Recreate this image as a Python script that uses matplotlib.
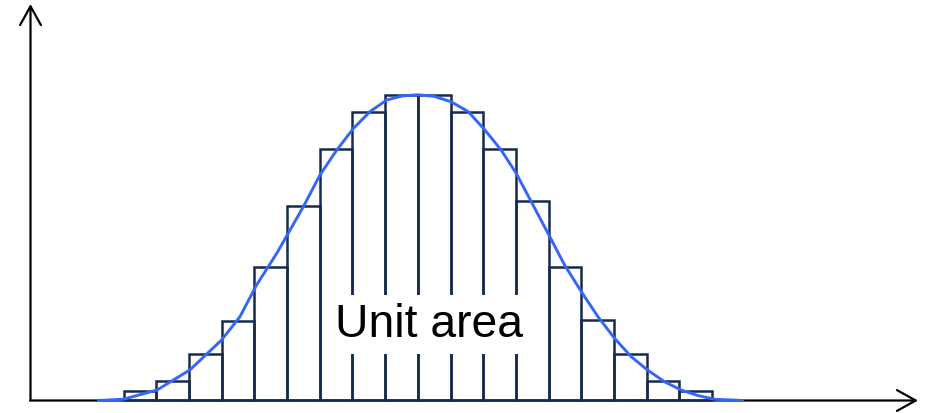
import matplotlib
matplotlib.use("Agg")
import matplotlib.pyplot as plt

# Histogram bins (bin width = 1, centred on 0) and bar heights (% of the tallest bar)
bin_centers = [-8.5, -7.5, -6.5, -5.5, -4.5, -3.5, -2.5, -1.5, -0.5,
               0.5, 1.5, 2.5, 3.5, 4.5, 5.5, 6.5, 7.5, 8.5]
bar_heights = [3.0, 6.5, 15.3, 25.9, 43.8, 63.7, 82.1, 94.5, 100.0,
               100.0, 94.5, 82.1, 65.2, 43.6, 26.2, 15.3, 6.5, 3.0]

# Smooth density curve drawn over the histogram
curve_x = [-9.77, -9.01, -7.98, -6.97, -6.00, -5.44, -4.93, -4.31, -3.50,
           -2.99, -2.48, -1.97, -1.46, -0.95, -0.48, 0.0, 0.50, 1.02, 1.54,
           2.05, 2.55, 3.01, 3.47, 4.01, 4.49, 5.00, 5.51, 6.02, 6.53, 7.02,
           7.55, 8.06, 8.57, 9.08, 9.94]
curve_y = [0.0, 0.4, 3.4, 10.0, 19.8, 27.4, 37.8, 48.2, 63.4,
           73.8, 81.9, 89.0, 94.5, 98.3, 99.6, 100.0, 99.5, 97.7, 94.5,
           88.5, 81.9, 74.3, 65.0, 54.1, 44.3, 35.6, 27.4, 20.3, 14.3, 10.0,
           6.1, 3.4, 1.6, 0.4, 0.0]

label_text = "Unit area"

W, H, DPI = 931, 413, 100
fig = plt.figure(figsize=(W / DPI, H / DPI), dpi=DPI)
ax = fig.add_axes([0, 0, 1, 1])
ax.set_xlim(-12.777, 15.694)
ax.set_ylim(-4.09, 131.0)
ax.axis("off")

bar_color = "#172a4e"
curve_color = "#3467f5"

ax.bar(bin_centers, bar_heights, width=1.0, align="center", fill=False,
       edgecolor=bar_color, linewidth=1.8, zorder=2)

ax.plot(curve_x, curve_y, color=curve_color, linewidth=2.1,
        solid_capstyle="round", zorder=4)

ax.text(0.34, 20.9, label_text, ha="center", va="baseline",
        fontsize=33.3, family=["Liberation Sans", "DejaVu Sans"],
        color="black", zorder=3,
        bbox=dict(boxstyle="square,pad=0.17", facecolor="white",
                  edgecolor="none"))

# Coordinate axes drawn as arrows
arrow_style = "->,head_length=1.35,head_width=0.75"
ax.annotate("", xy=(30.5, 409), xytext=(30.5, 12.5),
            xycoords="figure pixels", textcoords="figure pixels",
            arrowprops=dict(arrowstyle=arrow_style, lw=1.6, color="black",
                            shrinkA=0, shrinkB=0), zorder=1)
ax.annotate("", xy=(918, 12.5), xytext=(30, 12.5),
            xycoords="figure pixels", textcoords="figure pixels",
            arrowprops=dict(arrowstyle=arrow_style, lw=1.6, color="black",
                            shrinkA=0, shrinkB=0), zorder=1)

fig.savefig("out.png", dpi=DPI)
